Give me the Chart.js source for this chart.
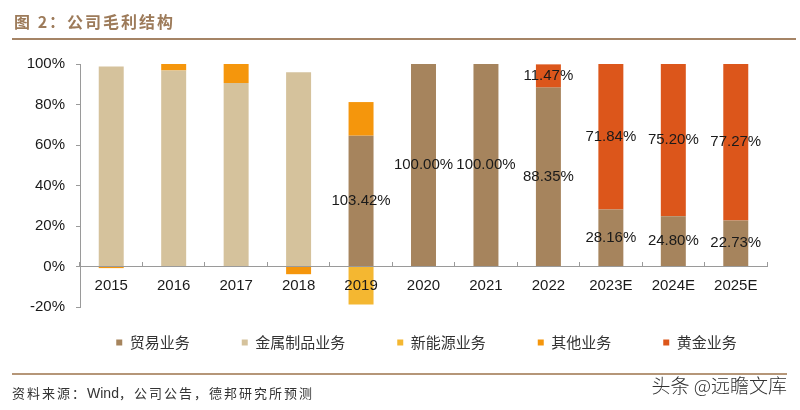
<!DOCTYPE html>
<html>
<head>
<meta charset="utf-8">
<script src="https://cdn.jsdelivr.net/npm/chart.js@4.4.0/dist/chart.umd.min.js"></script>
<style>
  html, body { margin: 0; padding: 0; background: #fff; }
  .page { position: relative; width: 800px; height: 410px; overflow: hidden; font-family: "Noto Sans CJK SC", sans-serif; }
  .chart-box { position: absolute; left: 0; top: 0; width: 800px; height: 410px; }
  .title { position: absolute; left: 14px; top: 9px; font-size: 16px; font-weight: bold; color: #9d7b5a; letter-spacing: 2px; }
  .rule-top { position: absolute; left: 12px; right: 4px; top: 38px; height: 2px; background: #a58466; }
  .rule-bottom { position: absolute; left: 12px; right: 13px; top: 373px; height: 2px; background: #b59678; }
  .source { position: absolute; left: 12px; top: 383px; font-size: 13px; color: #333; letter-spacing: 2px; }
  .source .latin { font-family: "Liberation Sans", Arial, sans-serif; letter-spacing: 0; font-size: 14px; }
  .mark { position: absolute; right: 13px; top: 371px; font-size: 19px; font-weight: 300; color: #333; }
</style>
</head>
<body>
<div class="page">
  <div class="chart-box"><canvas id="grossChart"></canvas></div>
  <div class="title">图 2：公司毛利结构</div>
  <div class="rule-top"></div>
  <div class="rule-bottom"></div>
  <div class="source">资料来源：<span class="latin">Wind</span>，公司公告，德邦研究所预测</div>
  <div class="mark">头条 @远瞻文库</div>
</div>
<script>
  const years = ['2015', '2016', '2017', '2018', '2019', '2020', '2021', '2022', '2023E', '2024E', '2025E'];

  // share of gross profit, % (as drawn)
  const trade = [null, null, null, null, 64.6, 100, 100, 88.35, 28.16, 24.80, 22.73];
  const metal = [98.8, 96.8, 90.6, 95.9, null, null, null, null, null, null, null];
  const newEnergy = [null, null, null, null, -18.8, null, null, null, null, null, null];
  const other = [-0.8, 3.2, 9.4, -3.8, 16.6, null, null, null, null, null, null];
  const gold = [null, null, null, null, null, null, null, 11.47, 71.84, 75.20, 77.27];

  const tradeLabels = ['', '', '', '', '103.42%', '100.00%', '100.00%', '88.35%', '28.16%', '24.80%', '22.73%'];
  const goldLabels = ['', '', '', '', '', '', '', '11.47%', '71.84%', '75.20%', '77.27%'];

  const tickFont = { family: '"Liberation Sans", Arial, sans-serif', size: 15 };
  const axisGray = '#9a9a9a';

  // value labels in the middle of each segment
  const segmentLabels = {
    id: 'segmentLabels',
    afterDatasetsDraw(chart) {
      const ctx = chart.ctx;
      ctx.save();
      ctx.font = '15px "Liberation Sans", Arial, sans-serif';
      ctx.fillStyle = '#1a1a1a';
      ctx.textAlign = 'center';
      ctx.textBaseline = 'middle';
      [[0, tradeLabels], [4, goldLabels]].forEach(([di, texts]) => {
        chart.getDatasetMeta(di).data.forEach((bar, i) => {
          if (!texts[i]) return;
          ctx.fillText(texts[i], bar.x, (bar.y + bar.base) / 2);
        });
      });
      ctx.restore();
    }
  };

  // legend sits a bit higher and right of the default spot
  const legendPlace = {
    id: 'legendPlace',
    afterLayout(chart) {
      const lg = chart.legend;
      lg.left += 43;
      lg.right += 43;
      lg.top -= 24;
      lg.bottom -= 24;
    }
  };

  const ds = (label, data, color) => ({
    label,
    data,
    backgroundColor: color,
    borderWidth: 0,
    barPercentage: 0.4,
    categoryPercentage: 1
  });

  new Chart(document.getElementById('grossChart'), {
    type: 'bar',
    data: {
      labels: years,
      datasets: [
        ds('贸易业务', trade, '#a6845d'),
        ds('金属制品业务', metal, '#d5c29c'),
        ds('新能源业务', newEnergy, '#f4b731'),
        ds('其他业务', other, '#f5960c'),
        ds('黄金业务', gold, '#dc561b')
      ]
    },
    options: {
      responsive: true,
      maintainAspectRatio: false,
      animation: false,
      layout: { padding: { top: 64, right: 33, bottom: 26, left: 0 } },
      plugins: {
        tooltip: { enabled: false },
        legend: {
          position: 'bottom',
          labels: {
            boxWidth: 6,
            boxHeight: 6,
            padding: 52,
            color: '#333',
            font: { family: '"Noto Sans CJK SC", sans-serif', size: 15 }
          }
        }
      },
      scales: {
        x: {
          stacked: true,
          position: { y: 0 },
          grid: { offset: true, drawOnChartArea: false, tickLength: -5, color: axisGray },
          border: { color: axisGray },
          ticks: { z: 1, padding: 15, color: '#1a1a1a', font: tickFont, maxRotation: 0, autoSkip: false }
        },
        y: {
          stacked: true,
          min: -20,
          max: 100,
          afterFit(scale) { scale.width = 80; },
          grid: { drawOnChartArea: false, tickLength: 4, color: axisGray },
          border: { color: axisGray },
          ticks: { stepSize: 20, padding: 11, color: '#1a1a1a', font: tickFont, callback: v => v + '%' }
        }
      }
    },
    plugins: [segmentLabels, legendPlace]
  });
</script>
</body>
</html>
